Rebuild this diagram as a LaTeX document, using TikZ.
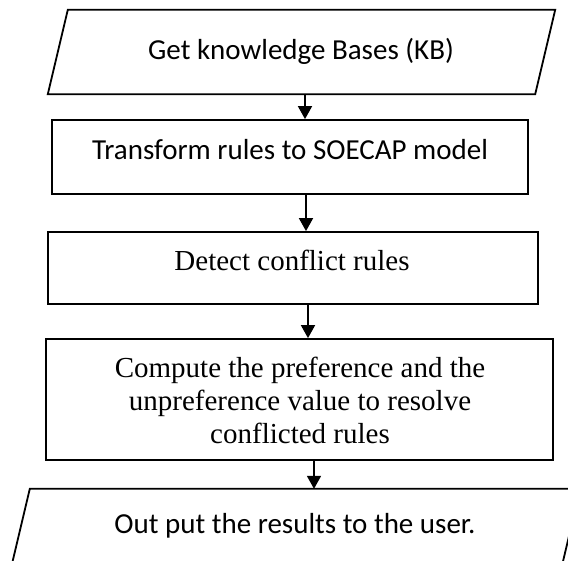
\documentclass[tikz,border=0pt]{standalone}
\usepackage{fontspec}
\setmainfont{Liberation Serif}
\newfontfamily\calib{Carlito}
\usetikzlibrary{arrows.meta,calc}
\begin{document}
\begin{tikzpicture}[x=1pt,y=-1pt,
  shapeline/.style={draw, line width=1.8pt, line join=miter},
  shapebox/.style={draw, line width=1.8pt, inner sep=0pt},
  paraframe/.style={inner sep=0pt},
  arr/.style={line width=1.8pt, -{Triangle[length=13pt,width=14pt]}},
  calibtxt/.style={font=\calib\fontsize{29}{33}\selectfont, anchor=base, inner sep=0pt},
  timestxt/.style={font=\fontsize{29}{33}\selectfont, anchor=base, inner sep=0pt}]
\useasboundingbox (0,0) rectangle (568,560);
\clip (0,0) rectangle (568,560);

% top parallelogram
\node[paraframe, minimum width=507pt, minimum height=84pt] (p1) at (301.5,52) {};
\draw[shapeline] ($(p1.north west)+(20,0)$) -- (p1.north east) -- ($(p1.south east)+(-20,0)$) -- (p1.south west) -- cycle;
\node[calibtxt] (t1) at (301,59) {Get knowledge Bases (KB)};

% box 2
\node[shapebox, minimum width=476pt, minimum height=74pt] (b2) at (290,157) {};
\node[calibtxt] (t2) at (290,159) {Transform rules to SOECAP model};

% box 3
\node[shapebox, minimum width=490pt, minimum height=72pt] (b3) at (293,268) {};
\node[timestxt] (t3) at (292,270) {Detect conflict rules};

% box 4
\node[shapebox, minimum width=507pt, minimum height=121pt] (b4) at (299.5,399.5) {};
\node[timestxt] (t4a) at (300,377) {Compute the preference and the};
\node[timestxt] (t4b) at (300,410) {unpreference value to resolve};
\node[timestxt] (t4c) at (300,443) {conflicted rules};

% bottom parallelogram
\node[paraframe, minimum width=570pt, minimum height=84pt] (p2) at (295,531) {};
\draw[shapeline] ($(p2.north west)+(20,0)$) -- (p2.north east) -- ($(p2.south east)+(-20,0)$) -- (p2.south west) -- cycle;
\node[calibtxt] (t5) at (295,533) {Out put the results to the user.};

% arrows
\draw[arr] (305,0 |- p1.south) -- (305,0 |- b2.north);
\draw[arr] (306,0 |- b2.south) -- (306,0 |- b3.north);
\draw[arr] (308,0 |- b3.south) -- (308,0 |- b4.north);
\draw[arr] (314,0 |- b4.south) -- (314,0 |- p2.north);
\end{tikzpicture}
\end{document}
